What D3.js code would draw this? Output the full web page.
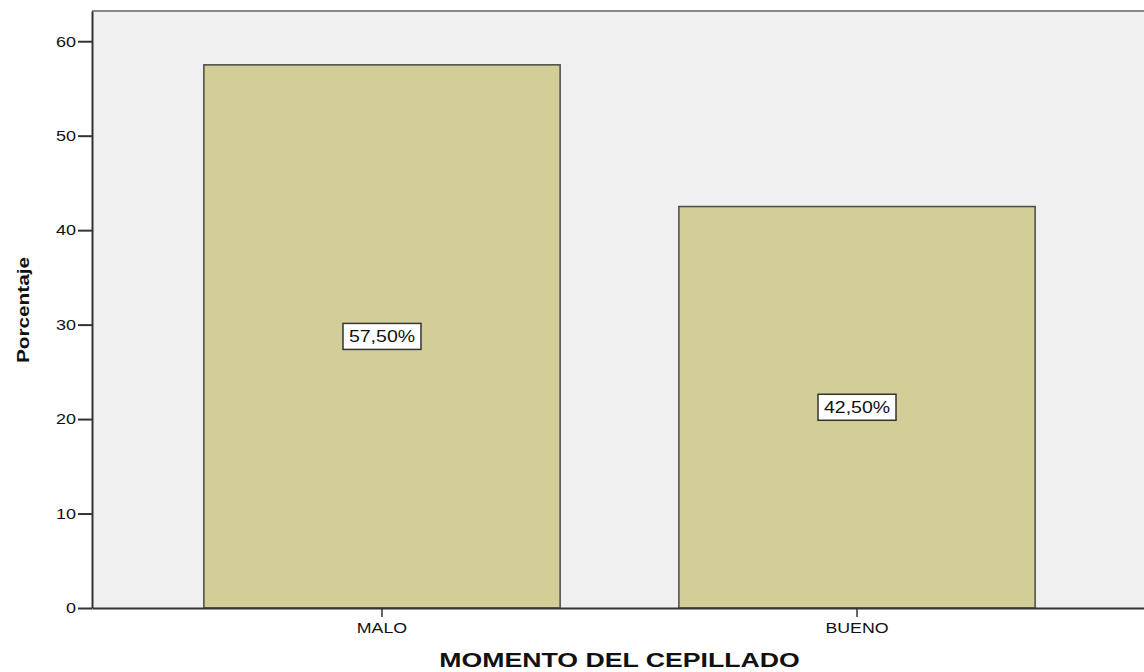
<!DOCTYPE html>
<html>
<head>
<meta charset="utf-8">
<title>MOMENTO DEL CEPILLADO</title>
<script src="https://cdn.jsdelivr.net/npm/d3@7"></script>
<style>
    body { margin: 0; background: #ffffff; }
    svg { display: block; }
    text { font-family: Arial, "Liberation Sans", sans-serif; fill: #111; }
</style>
</head>
<body>
<svg id="chart" width="1144" height="672"></svg>
<script>
"use strict";

// Chart data.
var categories = ["MALO", "BUENO"];
var percentages = [57.5, 42.5];
var bar_labels = ["57,50%", "42,50%"];
var y_ticks = [0, 10, 20, 30, 40, 50, 60];

var plot = { left: 92, top: 11, right: 1147, bottom: 608 };

var svg = d3.select("#chart");

// The original text is rendered wider than Arial, so stretch each label
// along its own direction by a factor.
function stretch(selection, factor) {
    selection.each(function() {
        var natural = this.getComputedTextLength();
        d3.select(this)
            .attr("textLength", natural * factor)
            .attr("lengthAdjust", "spacingAndGlyphs");
    });
}

var x = d3.scaleBand()
    .domain(categories)
    .range([plot.left, plot.right])
    .paddingInner(0.25)
    .paddingOuter(0.2355);

var y = d3.scaleLinear()
    .domain([0, 63.2])
    .range([plot.bottom, plot.top]);

// Plot background
svg.append("rect")
    .attr("x", plot.left)
    .attr("y", plot.top)
    .attr("width", plot.right - plot.left)
    .attr("height", plot.bottom - plot.top)
    .attr("fill", "#f0f0f0");

// Top frame line (the right one is off the picture)
svg.append("line")
    .attr("x1", plot.left).attr("x2", plot.right)
    .attr("y1", plot.top).attr("y2", plot.top)
    .attr("stroke", "#888")
    .attr("stroke-width", 2);

// Bars
svg.selectAll("rect.bar")
    .data(categories)
    .enter().append("rect")
    .attr("class", "bar")
    .attr("x", function(d) { return x(d); })
    .attr("y", function(d, i) { return y(percentages[i]); })
    .attr("width", x.bandwidth())
    .attr("height", function(d, i) { return y(0) - y(percentages[i]); })
    .attr("fill", "#d3ce97")
    .attr("stroke", "#4a4a4a")
    .attr("stroke-width", 1.5);

// Value labels in white boxes, at half the bar height
var labels = svg.selectAll("g.value-label")
    .data(categories)
    .enter().append("g")
    .attr("class", "value-label")
    .attr("transform", function(d, i) {
        var cx = x(d) + x.bandwidth() / 2;
        var cy = (y(0) + y(percentages[i])) / 2;
        return "translate(" + cx + "," + cy + ")";
    });

labels.append("rect")
    .attr("x", -39)
    .attr("y", -13)
    .attr("width", 78)
    .attr("height", 26)
    .attr("fill", "#ffffff")
    .attr("stroke", "#333")
    .attr("stroke-width", 1.5);

labels.append("text")
    .attr("text-anchor", "middle")
    .attr("dy", "0.36em")
    .style("font-size", "16px")
    .text(function(d, i) { return bar_labels[i]; })
    .call(stretch, 1.22);

// Y axis
var y_axis = svg.append("g")
    .attr("transform", "translate(" + plot.left + ",0)")
    .call(d3.axisLeft(y).tickValues(y_ticks).tickSize(14).tickSizeOuter(0).tickPadding(2));

y_axis.select(".domain")
    .attr("stroke", "#333")
    .attr("stroke-width", 2);
y_axis.selectAll(".tick line")
    .attr("stroke", "#333")
    .attr("stroke-width", 2);
y_axis.selectAll(".tick text")
    .style("font-size", "15px")
    .attr("fill", "#111")
    .call(stretch, 1.2);

// X axis
var x_axis = svg.append("g")
    .attr("transform", "translate(0," + plot.bottom + ")")
    .call(d3.axisBottom(x).tickSize(9).tickSizeOuter(0).tickPadding(6));

x_axis.select(".domain")
    .attr("stroke", "#333")
    .attr("stroke-width", 2);
x_axis.selectAll(".tick line")
    .attr("stroke", "#333")
    .attr("stroke-width", 1.5);
x_axis.selectAll(".tick text")
    .style("font-size", "14px")
    .attr("fill", "#111")
    .call(stretch, 1.27);

// Axis titles
svg.append("text")
    .attr("x", (plot.left + plot.right) / 2)
    .attr("y", 667)
    .attr("text-anchor", "middle")
    .style("font-size", "21px")
    .style("font-weight", "bold")
    .attr("fill", "#111")
    .text("MOMENTO DEL CEPILLADO")
    .call(stretch, 1.27);

svg.append("text")
    .attr("transform", "translate(29,310) rotate(-90)")
    .attr("text-anchor", "middle")
    .style("font-size", "17px")
    .style("font-weight", "bold")
    .attr("fill", "#111")
    .text("Porcentaje")
    .call(stretch, 1.22);
</script>
</body>
</html>
